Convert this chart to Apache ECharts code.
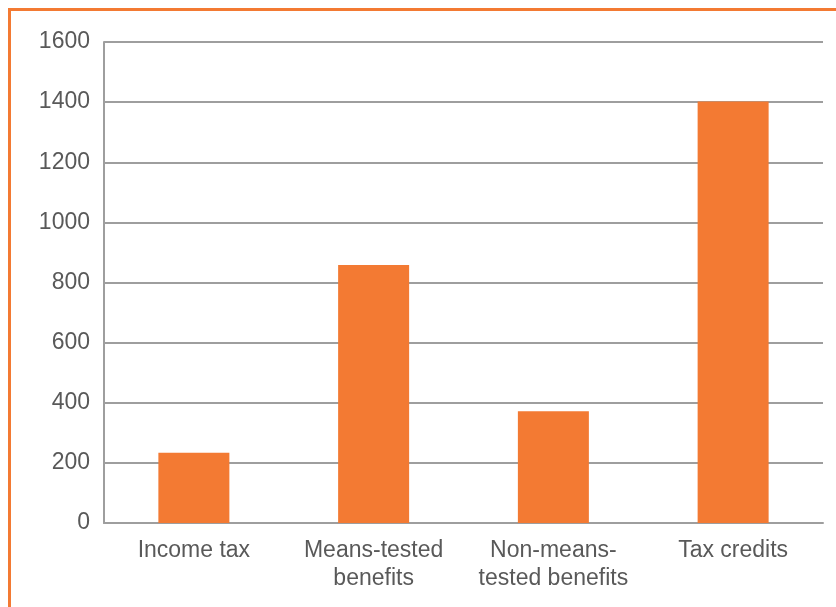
<!DOCTYPE html>
<html><head><meta charset="utf-8">
<script src="https://cdn.jsdelivr.net/npm/echarts@6/dist/echarts.min.js"></script>
<style>html,body{margin:0;padding:0;background:#fff}#c{width:836px;height:607px}</style>
</head><body><div id="c"></div>
<script>
var categories = ['Income tax', 'Means-tested\nbenefits', 'Non-means-\ntested benefits', 'Tax credits'];
var values = [234, 858, 372, 1402];
var yTicks = [0, 1600, 200];

var chart = echarts.init(document.getElementById('c'), null, {renderer: 'canvas'});
var gridColor = '#9e9e9e';
var textColor = '#595959';
var font = '"Liberation Sans", Arial, sans-serif';
chart.setOption({
  animation: false,
  backgroundColor: '#fff',
  graphic: [{
    type: 'rect', silent: true,
    shape: {x: 9.5, y: 9.5, width: 900, height: 700},
    style: {fill: 'none', stroke: '#f37a33', lineWidth: 3}
  }],
  grid: {left: 104, right: 13, top: 42, bottom: 84},
  xAxis: {
    type: 'category', data: categories,
    axisLine: {show: true, lineStyle: {color: gridColor, width: 2}},
    axisTick: {show: false},
    axisLabel: {color: textColor, fontSize: 23, fontFamily: font, margin: 14, lineHeight: 28, interval: 0}
  },
  yAxis: {
    type: 'value', min: yTicks[0], max: yTicks[1], interval: yTicks[2],
    axisLine: {show: true, lineStyle: {color: gridColor, width: 2}},
    axisTick: {show: false},
    splitLine: {show: true, lineStyle: {color: gridColor, width: 2}},
    axisLabel: {color: textColor, fontSize: 23, fontFamily: font, margin: 14,
      formatter: function (v) { return String(v); }}
  },
  series: [{
    type: 'bar', data: values, barWidth: '39.5%',
    itemStyle: {color: '#f37a33'}
  }]
});
</script></body></html>
